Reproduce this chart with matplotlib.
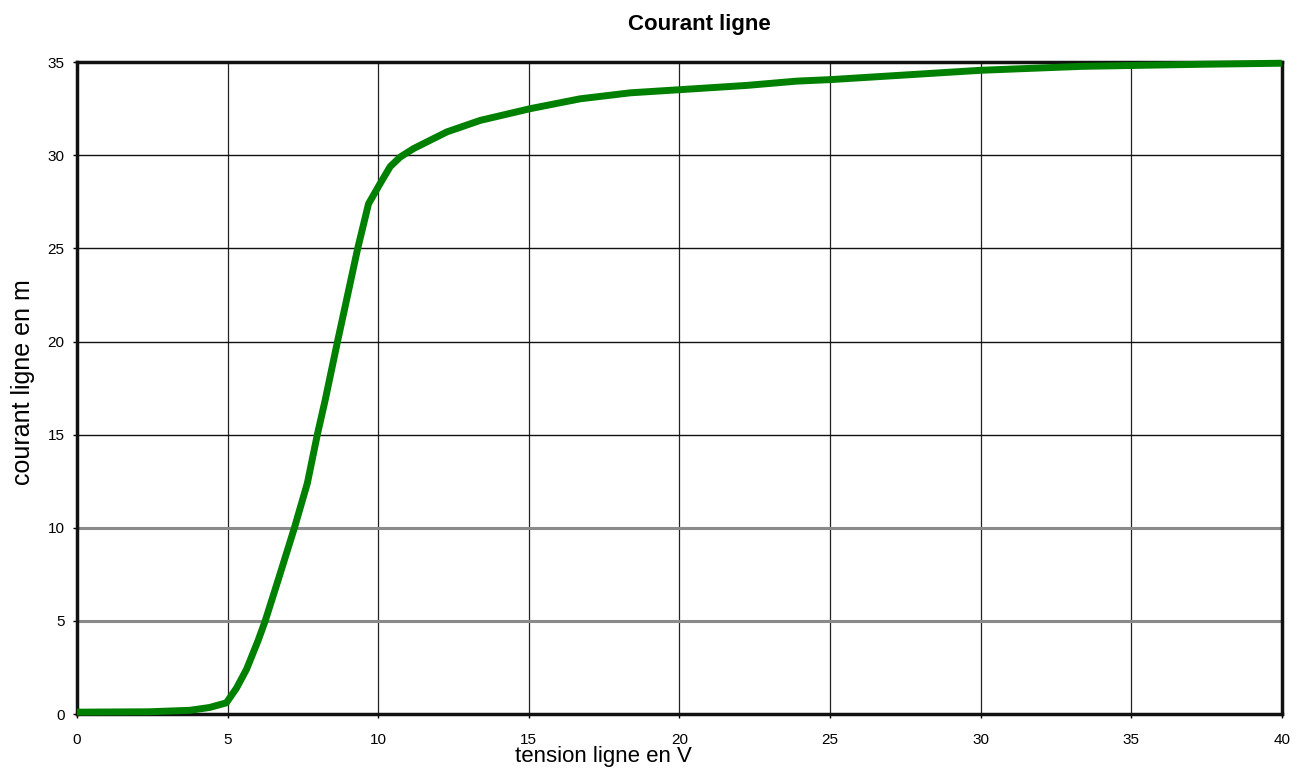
import numpy as np
import matplotlib
matplotlib.use("Agg")
import matplotlib.pyplot as plt

# courbe (tension en V, courant)
tension = [0, 2.4, 3.75, 4.4, 4.96, 5.3, 5.63, 6.02, 6.25, 6.7, 7.22, 7.65,
           7.98, 8.24, 8.65, 8.90, 9.32, 9.68, 10.07, 10.4, 10.73, 11.17,
           12.28, 13.39, 15.05, 16.71, 18.37, 20.03, 22.25, 23.91, 25.02,
           30.0, 33.32, 37.2, 40]
courant = [0.1, 0.12, 0.2, 0.35, 0.6, 1.4, 2.4, 3.97, 5.0, 7.3, 10.0, 12.4,
           15.0, 16.85, 20.0, 21.86, 25.0, 27.4, 28.5, 29.4, 29.91, 30.36,
           31.26, 31.88, 32.51, 33.04, 33.36, 33.53, 33.76, 33.99, 34.07,
           34.57, 34.78, 34.89, 34.95]

xticks = [0, 5, 10, 15, 20, 25, 30, 35, 40]
yticks = [0, 5, 10, 15, 20, 25, 30, 35]

plt.rcParams['font.family'] = ['Liberation Sans', 'DejaVu Sans']

fig = plt.figure(figsize=(13.04, 7.69), dpi=100)
ax = fig.add_axes([0.059, 0.0715, 0.924, 0.8475])

# grille
for x in xticks[1:-1]:
    ax.axvline(x, color='#222222', lw=0.9, zorder=1)
for y in yticks[1:-1]:
    if y in (5, 10):
        ax.axhline(y, color='#8a8a8a', lw=2.2, zorder=1)
    else:
        ax.axhline(y, color='#111111', lw=1.0, zorder=1)

ax.plot(tension, courant, color='#008000', lw=5, zorder=3,
        solid_capstyle='butt', solid_joinstyle='round', clip_on=False)

ax.set_xlim(0, 40)
ax.set_ylim(0, 35)
ax.set_xticks(xticks)
ax.set_yticks(yticks)
ax.tick_params(axis='both', labelsize=11, length=3, width=1, direction='out')
ax.tick_params(axis='x', pad=11)
ax.tick_params(axis='y', pad=6)
for s in ax.spines.values():
    s.set_linewidth(2.5)
    s.set_color('#111111')

fig.text(0.536, 0.9675, "Courant ligne", ha='center', va='center',
         fontsize=16, fontweight='bold')
fig.text(0.463, 0.016, "tension ligne en V", ha='center', va='center',
         fontsize=16)
fig.text(0.018, 0.503, "courant ligne en m", ha='center', va='center',
         rotation=90, fontsize=18)

plt.savefig("out.png", dpi=100)
